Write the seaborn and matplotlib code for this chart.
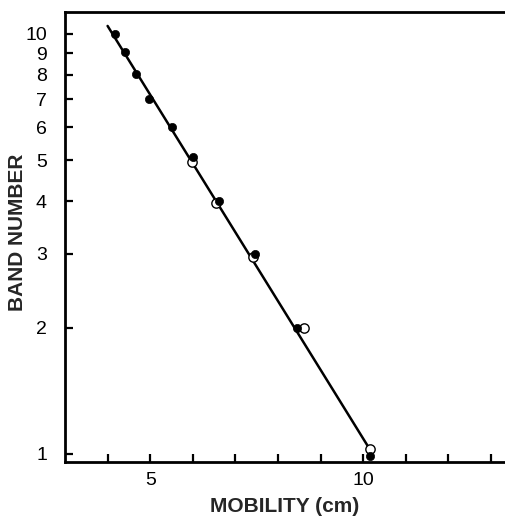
import numpy as np
import pandas as pd
import seaborn as sns
import matplotlib.pyplot as plt

# --- data ---
filled_x = [4.17, 4.41, 4.67, 4.97, 5.51, 6.00, 6.62, 7.45, 8.45, 10.15]
filled_band = [10.0, 9.05, 8.05, 7.0, 6.0, 5.1, 4.0, 3.0, 2.0, 0.99]
open_x = [5.97, 6.55, 7.42, 8.60, 10.15]
open_band = [4.95, 3.95, 2.95, 2.0, 1.03]
fit_x = [4.0, 10.12]
fit_band = [10.45, 1.04]
y_ticks = [1, 2, 3, 4, 5, 6, 7, 8, 9, 10]
x_ticks = [4, 5, 6, 7, 8, 9, 10, 11, 12, 13]
x_labels = ['', '5', '', '', '', '', '10', '', '', '']

sns.set_style('white')
plt.rcParams['font.family'] = ['Liberation Sans', 'DejaVu Sans']

fig = plt.figure(figsize=(5.05, 5.22), dpi=100)
ax = fig.add_axes([65 / 505, 60 / 522, 440 / 505, 450 / 522])

filled = pd.DataFrame({'mobility': filled_x, 'band': filled_band})
opened = pd.DataFrame({'mobility': open_x, 'band': open_band})
fit = pd.DataFrame({'mobility': fit_x, 'band': fit_band})

sns.lineplot(data=fit, x='mobility', y='band', color='black', linewidth=1.8, ax=ax)
sns.scatterplot(data=opened, x='mobility', y='band', s=45, facecolor='white',
                edgecolor='black', linewidth=1.0, ax=ax, zorder=3)
sns.scatterplot(data=filled, x='mobility', y='band', s=35, color='black',
                edgecolor='black', linewidth=0.5, ax=ax, zorder=4)

ax.set_yscale('log')
ax.set_ylim(0.957, 11.28)
ax.set_xlim(3, 13.33)
ax.set_yticks(y_ticks)
ax.set_yticklabels([str(t) for t in y_ticks])
ax.minorticks_off()
ax.set_xticks(x_ticks)
ax.set_xticklabels(x_labels)

ax.tick_params(axis='both', which='major', bottom=True, left=True,
               direction='in', length=6, width=1.6, labelsize=14,
               colors='black')
ax.tick_params(axis='y', pad=13)
ax.tick_params(axis='x', pad=7)

for side in ['left', 'top', 'bottom']:
    ax.spines[side].set_linewidth(2)
    ax.spines[side].set_color('black')
ax.spines['right'].set_visible(False)

ax.set_xlabel('')
ax.set_ylabel('')
fig.text(285 / 505, 1 - 507 / 522, 'MOBILITY (cm)', fontsize=15,
         fontweight='bold', ha='center', va='center')
fig.text(18 / 505, 1 - 232 / 522, 'BAND NUMBER', fontsize=15,
         fontweight='bold', ha='center', va='center', rotation=90)

fig.savefig('out.png', dpi=100)
